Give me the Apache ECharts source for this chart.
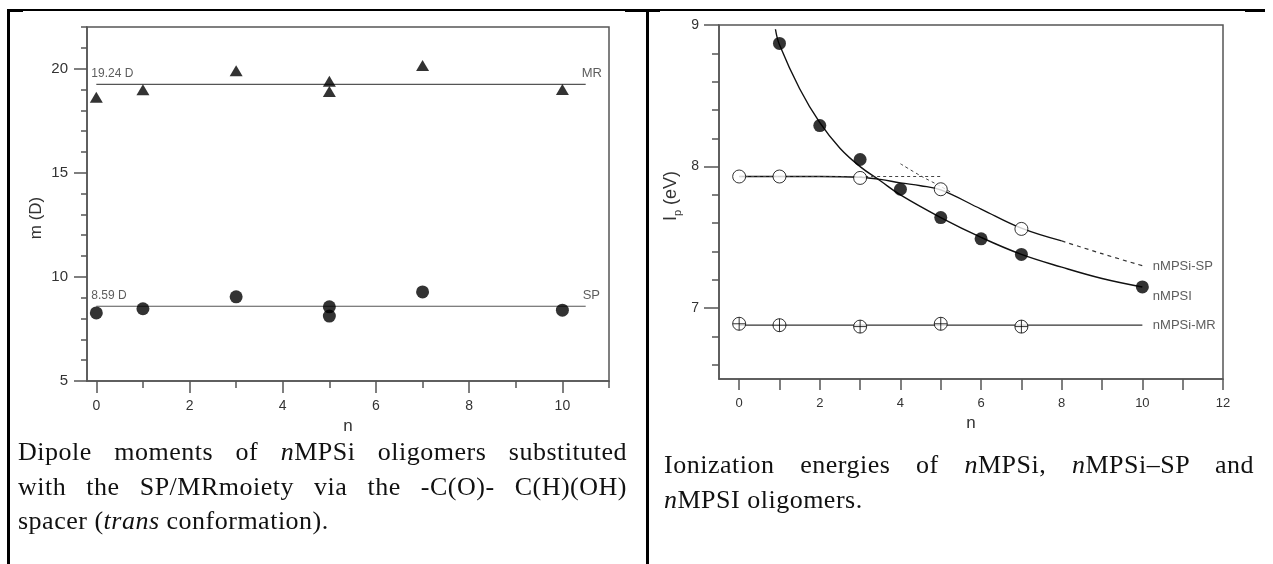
<!DOCTYPE html>
<html>
<head>
<meta charset="utf-8">
<script src="https://cdn.jsdelivr.net/npm/echarts@6/dist/echarts.min.js"></script>
<style>
  html, body { margin:0; padding:0; background:#fff; }
  #wrap { position:relative; width:1273px; height:564px; overflow:hidden; }
  #chart { position:absolute; left:0; top:0; width:1273px; height:564px; }
  .rule { position:absolute; background:#000; }
  .cap { position:absolute; font-family:'Liberation Serif','Times New Roman',serif; font-size:26px; letter-spacing:0.5px; color:#111; white-space:nowrap; }
  .cap div { height:34.5px; line-height:34.5px; }
  .cap .j { text-align:justify; text-align-last:justify; }
</style>
</head>
<body>
<div id="wrap">
  <div id="chart"></div>
  <div class="rule" style="left:7px;top:9px;width:1258px;height:2px;"></div>
  <div class="rule" style="left:7px;top:9px;width:16px;height:3px;"></div>
  <div class="rule" style="left:625px;top:9px;width:35px;height:3px;"></div>
  <div class="rule" style="left:1245px;top:9px;width:20px;height:3px;"></div>
  <div class="rule" style="left:7px;top:9px;width:3px;height:555px;"></div>
  <div class="rule" style="left:646px;top:9px;width:3px;height:555px;"></div>
  <div class="cap" style="left:18px;top:435px;width:609px;">
    <div class="j">Dipole moments of <i>n</i>MPSi oligomers substituted</div>
    <div class="j">with the SP/MRmoiety via the -C(O)- C(H)(OH)</div>
    <div>spacer (<i>trans</i> conformation).</div>
  </div>
  <div class="cap" style="left:664px;top:448px;width:590px;">
    <div class="j">Ionization energies of <i>n</i>MPSi, <i>n</i>MPSi–SP and</div>
    <div><i>n</i>MPSI oligomers.</div>
  </div>
</div>
<script>
// ---------- Left chart data (dipole moments) ----------
const leftN_MR = [0, 1, 3, 5, 5, 7, 10];
const leftMR   = [18.63, 18.99, 19.90, 19.40, 18.90, 20.15, 19.00];
const leftN_SP = [0, 1, 3, 5, 5, 7, 10];
const leftSP   = [8.27, 8.47, 9.04, 8.56, 8.12, 9.28, 8.40];
const mrMean = 19.24;
const spMean = 8.59;
const meanLineN = [0, 10.5];
const leftXMajor = [0, 2, 4, 6, 8, 10];
const leftXMinor = [1, 3, 5, 7, 9, 11];
const leftYMajor = [5, 10, 15, 20];
const leftYMinor = [6, 7, 8, 9, 11, 12, 13, 14, 16, 17, 18, 19, 21, 22];

// ---------- Right chart data (ionization energies) ----------
const rN_I  = [1, 2, 3, 4, 5, 6, 7, 10];
const rI    = [8.87, 8.29, 8.05, 7.84, 7.64, 7.49, 7.38, 7.15];
const rN_SP = [0, 1, 3, 5, 7];
const rSP   = [7.93, 7.93, 7.92, 7.84, 7.56];
const rN_MR = [0, 1, 3, 5, 7];
const rMR   = [6.89, 6.88, 6.87, 6.89, 6.87];
// fitted curves
const fitI_n  = [0.9, 1, 1.5, 2, 2.5, 3, 3.5, 4, 5, 6, 7, 8, 9, 10];
const fitI_v  = [8.97, 8.86, 8.55, 8.31, 8.13, 8.00, 7.90, 7.80, 7.64, 7.50, 7.38, 7.29, 7.21, 7.15];
const fitSP_n = [0, 1, 2, 3, 3.5, 4, 4.5, 5, 6, 7, 8];
const fitSP_v = [7.93, 7.93, 7.93, 7.925, 7.91, 7.885, 7.865, 7.835, 7.70, 7.565, 7.475];
const flatSP_n = [0, 5];
const flatSP_v = [7.93, 7.93];
const steepSP_n = [4, 4.5, 5, 5.3];
const steepSP_v = [8.02, 7.935, 7.86, 7.81];
const tailSP_n = [8, 9, 10];
const tailSP_v = [7.475, 7.385, 7.30];
const fitMR_n = [0, 10];
const fitMR_v = [6.88, 6.88];
const rightXTicks  = [0, 1, 2, 3, 4, 5, 6, 7, 8, 9, 10, 11, 12];
const rightXLabels = [0, 2, 4, 6, 8, 10, 12];
const rightYMajor  = [7, 8, 9];
const rightYMinor  = [6.6, 6.8, 7.2, 7.4, 7.6, 7.8, 8.2, 8.4, 8.6, 8.8];

const zip = (a, b) => a.map((v, i) => [v, b[i]]);
const FONT = 'Liberation Sans, Arial, Helvetica, sans-serif';
const AX = '#555';
const TXT = '#333';

function mainAxis(extra) {
  return Object.assign({
    type: 'value',
    axisLine: { show: true, onZero: false, lineStyle: { color: AX, width: 1.5 } },
    splitLine: { show: false },
    nameTextStyle: { color: TXT, fontFamily: FONT, fontSize: 17 },
  }, extra);
}
function minorAxis(extra) {
  return Object.assign({
    type: 'value',
    axisLine: { show: false, onZero: false },
    axisLabel: { show: false },
    splitLine: { show: false },
  }, extra);
}
const crossCircle = 'path://M10,0 A10,10 0 1,1 -10,0 A10,10 0 1,1 10,0 Z M-10,0 L10,0 M0,-10 L0,10';

const chart = echarts.init(document.getElementById('chart'), null, { renderer: 'canvas' });

const labelSeries = (xi, yi, items) => ({
  type: 'scatter', xAxisIndex: xi, yAxisIndex: yi, symbolSize: 1, silent: true,
  itemStyle: { color: 'transparent' }, z: 5,
  label: { show: true, color: TXT, fontFamily: FONT, fontSize: 13 },
  data: items
});

const option = {
  animation: false,
  grid: [
    { left: 87, top: 27, width: 522, height: 354, show: true, borderColor: AX, borderWidth: 1.5, backgroundColor: 'transparent' },
    { left: 719, top: 25, width: 504, height: 354, show: true, borderColor: AX, borderWidth: 1.5, backgroundColor: 'transparent' }
  ],
  xAxis: [
    mainAxis({ gridIndex: 0, position: 'bottom', min: -0.2, max: 11,
      name: 'n', nameLocation: 'middle', nameGap: 27,
      axisTick: { show: true, inside: false, length: 12, customValues: leftXMajor, lineStyle: { color: AX, width: 1.5 } },
      axisLabel: { show: true, customValues: leftXMajor, margin: 18, color: TXT, fontFamily: FONT, fontSize: 14 } }),
    minorAxis({ gridIndex: 0, position: 'bottom', min: -0.2, max: 11,
      axisTick: { show: true, inside: false, length: 7, customValues: leftXMinor, lineStyle: { color: AX, width: 1.5 } } }),
    mainAxis({ gridIndex: 1, position: 'bottom', min: -0.5, max: 12,
      name: 'n', nameLocation: 'middle', nameGap: 26,
      axisTick: { show: true, inside: false, length: 11, customValues: rightXTicks, lineStyle: { color: AX, width: 1.5 } },
      axisLabel: { show: true, customValues: rightXLabels, margin: 18, color: TXT, fontFamily: FONT, fontSize: 13 } })
  ],
  yAxis: [
    mainAxis({ gridIndex: 0, position: 'left', min: 5, max: 22,
      name: 'm (D)', nameLocation: 'middle', nameGap: 42, nameRotate: 90,
      nameTextStyle: { color: TXT, fontFamily: FONT, fontSize: 17, padding: [0, 28, 0, 0] },
      axisTick: { show: true, inside: false, length: 13, customValues: leftYMajor, lineStyle: { color: AX, width: 1.5 } },
      axisLabel: { show: true, customValues: leftYMajor, margin: 19, color: TXT, fontFamily: FONT, fontSize: 15 } }),
    minorAxis({ gridIndex: 0, position: 'left', min: 5, max: 22,
      axisTick: { show: true, inside: false, length: 6, customValues: leftYMinor, lineStyle: { color: AX, width: 1.5 } } }),
    mainAxis({ gridIndex: 1, position: 'left', min: 6.5, max: 9,
      name: '{i|I}{p|p}{i| (eV)}', nameLocation: 'middle', nameGap: 36, nameRotate: 90,
      nameTextStyle: { color: TXT, fontFamily: FONT, fontSize: 17, padding: [0, 0, 0, 12],
        rich: {
          i: { fontFamily: FONT, fontSize: 18, lineHeight: 24, color: TXT },
          p: { fontFamily: FONT, fontSize: 11, lineHeight: 11, verticalAlign: 'bottom', color: TXT }
        } },
      axisTick: { show: true, inside: false, length: 15, customValues: rightYMajor, lineStyle: { color: AX, width: 1.5 } },
      axisLabel: { show: true, customValues: rightYMajor, margin: 20, color: TXT, fontFamily: FONT, fontSize: 14 } }),
    minorAxis({ gridIndex: 1, position: 'left', min: 6.5, max: 9,
      axisTick: { show: true, inside: false, length: 7, customValues: rightYMinor, lineStyle: { color: AX, width: 1.5 } } })
  ],
  series: [
    // ----- left chart -----
    { type: 'line', xAxisIndex: 0, yAxisIndex: 0, symbol: 'none', silent: true,
      lineStyle: { color: AX, width: 1.2 }, data: meanLineN.map(n => [n, mrMean]) },
    { type: 'line', xAxisIndex: 0, yAxisIndex: 0, symbol: 'none', silent: true,
      lineStyle: { color: AX, width: 1.2 }, data: meanLineN.map(n => [n, spMean]) },
    { type: 'scatter', xAxisIndex: 0, yAxisIndex: 0, symbol: 'triangle', symbolSize: [13, 11],
      itemStyle: { color: '#000' }, data: zip(leftN_MR, leftMR), z: 4 },
    { type: 'scatter', xAxisIndex: 0, yAxisIndex: 0, symbol: 'circle', symbolSize: 13,
      itemStyle: { color: '#000' }, data: zip(leftN_SP, leftSP), z: 4 },
    labelSeries(0, 0, [
      { value: [meanLineN[0], mrMean], label: { formatter: mrMean.toFixed(2) + ' D', position: 'top', align: 'left', distance: 4, offset: [-5, 0], fontSize: 12 } },
      { value: [meanLineN[1], mrMean], label: { formatter: 'MR', position: 'top', align: 'left', distance: 4, offset: [-4, 0] } },
      { value: [meanLineN[0], spMean], label: { formatter: spMean.toFixed(2) + ' D', position: 'top', align: 'left', distance: 4, offset: [-5, 0], fontSize: 12 } },
      { value: [meanLineN[1], spMean], label: { formatter: 'SP', position: 'top', align: 'left', distance: 4, offset: [-3, 0] } }
    ]),
    // ----- right chart -----
    { type: 'line', xAxisIndex: 2, yAxisIndex: 2, symbol: 'none', silent: true, smooth: 0.4,
      lineStyle: { color: '#111', width: 1.4 }, data: zip(fitI_n, fitI_v) },
    { type: 'line', xAxisIndex: 2, yAxisIndex: 2, symbol: 'none', silent: true, smooth: 0.4,
      lineStyle: { color: '#111', width: 1.4 }, data: zip(fitSP_n, fitSP_v) },
    { type: 'line', xAxisIndex: 2, yAxisIndex: 2, symbol: 'none', silent: true,
      lineStyle: { color: '#444', width: 1, type: [3, 3] }, data: zip(flatSP_n, flatSP_v) },
    { type: 'line', xAxisIndex: 2, yAxisIndex: 2, symbol: 'none', silent: true, smooth: 0.3,
      lineStyle: { color: '#444', width: 1, type: [3, 3] }, data: zip(steepSP_n, steepSP_v) },
    { type: 'line', xAxisIndex: 2, yAxisIndex: 2, symbol: 'none', silent: true, smooth: 0.3,
      lineStyle: { color: '#333', width: 1.2, type: [4, 4] }, data: zip(tailSP_n, tailSP_v) },
    { type: 'line', xAxisIndex: 2, yAxisIndex: 2, symbol: 'none', silent: true,
      lineStyle: { color: '#333', width: 1.2 }, data: zip(fitMR_n, fitMR_v) },
    { type: 'scatter', xAxisIndex: 2, yAxisIndex: 2, symbol: 'circle', symbolSize: 13,
      itemStyle: { color: '#000' }, data: zip(rN_I, rI), z: 4 },
    { type: 'scatter', xAxisIndex: 2, yAxisIndex: 2, symbol: 'circle', symbolSize: 13,
      itemStyle: { color: '#fff', borderColor: '#000', borderWidth: 1 }, data: zip(rN_SP, rSP), z: 4 },
    { type: 'scatter', xAxisIndex: 2, yAxisIndex: 2, symbol: crossCircle, symbolSize: 13,
      itemStyle: { color: '#fff', borderColor: '#000', borderWidth: 1 }, data: zip(rN_MR, rMR), z: 4 },
    labelSeries(2, 2, [
      { value: [tailSP_n[tailSP_n.length - 1], tailSP_v[tailSP_v.length - 1]], label: { formatter: 'nMPSi-SP', position: 'right', distance: 10, offset: [0, 1] } },
      { value: [rN_I[rN_I.length - 1], rI[rI.length - 1]], label: { formatter: 'nMPSI', position: 'right', distance: 10, offset: [0, 9] } },
      { value: [fitMR_n[1], fitMR_v[1]], label: { formatter: 'nMPSi-MR', position: 'right', distance: 10, offset: [0, 0] } }
    ])
  ]
};
chart.setOption(option);
</script>
</body>
</html>
